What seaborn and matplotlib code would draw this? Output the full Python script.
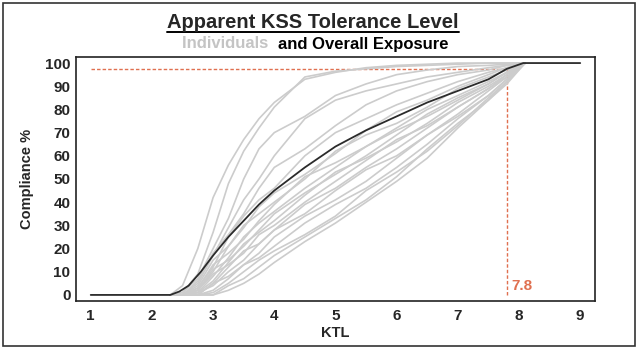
import numpy as np
import pandas as pd
import seaborn as sns
import matplotlib.pyplot as plt
from matplotlib.patches import Rectangle
from matplotlib.lines import Line2D

# KTL grid shared by the individual curves
ktl_grid = [2.3, 2.5, 2.75, 3.0, 3.25, 3.5, 3.75, 4.0, 4.5, 5.0, 5.5, 6.0, 6.5, 7.0, 7.5, 7.8, 8.1]

# individual compliance curves (%)
individuals = [
    [0, 4, 20, 42, 56, 67, 76, 83, 93, 96, 98, 99, 99.5, 100, 100, 100, 100],
    [0, 1, 9, 27, 48, 62, 72, 81, 94, 96.5, 97.5, 98.5, 99, 99.5, 100, 100, 100],
    [0, 1, 7, 20, 33, 50, 63, 70, 77, 86, 91, 95, 97, 98.5, 99, 99.5, 100],
    [0, 0, 5, 17, 29, 41, 50, 60, 76, 84, 88, 91, 94, 96, 98, 99, 100],
    [0, 0, 6, 18, 26, 35, 46, 55, 63, 73, 82, 88, 92, 95, 97, 99, 100],
    [0, 0, 3, 12, 25, 34, 41, 46, 60, 70, 76, 82, 87, 92, 96, 98, 100],
    [0, 0, 4, 15, 21, 29, 38, 44, 52, 61, 71, 79, 84, 90, 95, 98, 100],
    [0, 0, 2, 10, 21, 30, 35, 40, 50, 62, 69, 74, 81, 89, 94, 97, 100],
    [0, 0, 3, 13, 18, 24, 32, 39, 51, 57, 64, 72, 80, 86, 92, 96, 100],
    [0, 0, 1, 8, 16, 25, 31, 36, 46, 55, 64, 71, 77, 84, 91, 96, 100],
    [0, 0, 2, 11, 15, 21, 28, 35, 44, 52, 60, 69, 78, 85, 91, 96, 100],
    [0, 0, 1, 6, 14, 22, 27, 32, 43, 53, 59, 66, 74, 83, 90, 95, 100],
    [0, 0, 2, 9, 13, 18, 26, 30, 40, 49, 58, 67, 73, 81, 89, 95, 100],
    [0, 0, 0, 5, 12, 19, 22, 28, 39, 46, 55, 63, 72, 81, 89, 94, 100],
    [0, 0, 1, 4, 10, 15, 22, 28, 35, 45, 54, 60, 69, 78, 88, 94, 100],
    [0, 0, 0, 5, 8, 13, 18, 25, 34, 41, 49, 59, 69, 77, 86, 93, 100],
    [0, 0, 0, 2, 7, 13, 16, 21, 31, 39, 46, 55, 65, 76, 86, 93, 100],
    [0, 0, 0, 1, 5, 10, 15, 19, 26, 34, 45, 53, 62, 73, 85, 92, 100],
    [0, 0, 0, 0, 4, 7, 12, 17, 25, 33, 41, 51, 63, 74, 84, 92, 100],
    [0, 0, 0, 0, 2, 5, 9, 14, 23, 31, 40, 49, 59, 72, 84, 91, 100],
]

# overall exposure curve
overall_ktl = [1.0, 2.3, 2.45, 2.6, 2.8, 3.0, 3.25, 3.5, 3.75, 4.0, 4.5, 5.0, 5.5, 6.0, 6.5, 7.0, 7.5, 7.8, 8.07, 9.0]
overall_pct = [0, 0, 1.5, 4, 10, 17, 25, 32, 39, 45, 55, 64, 71, 77, 83, 88, 93, 97.5, 100, 100]

tolerance_ktl = 7.8
tolerance_pct = 97.5

rows = []
for i, ys in enumerate(individuals):
    for x, y in zip(ktl_grid, ys):
        rows.append({"KTL": x, "Compliance": y, "person": i})
df_ind = pd.DataFrame(rows)
df_all = pd.DataFrame({"KTL": overall_ktl, "Compliance": overall_pct})

sns.set_style("white")
plt.rcParams["font.family"] = ["Liberation Sans", "DejaVu Sans"]
plt.rcParams["font.weight"] = "bold"

fig = plt.figure(figsize=(6.39, 3.52), dpi=100)
ax = fig.add_axes([0.119, 0.145, 0.812, 0.693])

orange = "#e07050"
ax.plot([1, tolerance_ktl], [tolerance_pct, tolerance_pct], ls=(0, (2.5, 1.5)), color=orange, lw=1, zorder=1)
ax.plot([tolerance_ktl, tolerance_ktl], [0, tolerance_pct], ls=(0, (2.5, 1.5)), color=orange, lw=1, zorder=1)

sns.lineplot(data=df_ind, x="KTL", y="Compliance", units="person", estimator=None,
             color="#cccccc", lw=1.2, ax=ax, zorder=2)
sns.lineplot(data=df_all, x="KTL", y="Compliance", color="#2b2b2b", lw=1.3, ax=ax, zorder=3)

ax.text(tolerance_ktl + 0.08, 4, "7.8", color=orange, fontsize=11, fontweight="bold",
        ha="left", va="center")

ax.set_xlim(0.76, 9.24)
ax.set_ylim(-2.6, 102.6)
ax.set_xticks(range(1, 10))
ax.set_yticks(range(0, 101, 10))
ax.tick_params(length=0, labelsize=11)
ax.tick_params(axis="x", pad=6)
ax.tick_params(axis="y", pad=4)
for lab in ax.get_xticklabels() + ax.get_yticklabels():
    lab.set_fontweight("bold")
ax.set_xlabel("KTL", fontsize=10.5, fontweight="bold", labelpad=2)
ax.set_ylabel("Compliance %", fontsize=10.5, fontweight="bold", labelpad=8)
for s in ax.spines.values():
    s.set_color("#222222")
    s.set_linewidth(1.2)

# outer frame
fig.patches.append(Rectangle((0.005, 0.017), 0.988, 0.975, transform=fig.transFigure,
                             fill=False, edgecolor="#333333", lw=1.2))

# title with underline
title = fig.text(0.49, 0.937, "Apparent KSS Tolerance Level", ha="center", va="center",
                 fontsize=14.5, fontweight="bold")
fig.canvas.draw()
r = fig.canvas.get_renderer()
bb = title.get_window_extent(r)
fw, fh = fig.bbox.width, fig.bbox.height
fig.add_artist(Line2D([bb.x0 / fw, bb.x1 / fw], [1 - 32 / 352] * 2, color="black", lw=1.4))

# two-colour subtitle
t1 = fig.text(0, 0.875, "Individuals  ", fontsize=12, fontweight="bold", color="#c4c4c4", va="center")
t2 = fig.text(0, 0.875, "and Overall Exposure", fontsize=12, fontweight="bold", color="black", va="center")
fig.canvas.draw()
w1 = t1.get_window_extent(r).width
w2 = t2.get_window_extent(r).width
x0 = 0.493 * fw - (w1 + w2) / 2
t1.set_x(x0 / fw)
t2.set_x((x0 + w1) / fw)

fig.savefig("out.png", dpi=100)
